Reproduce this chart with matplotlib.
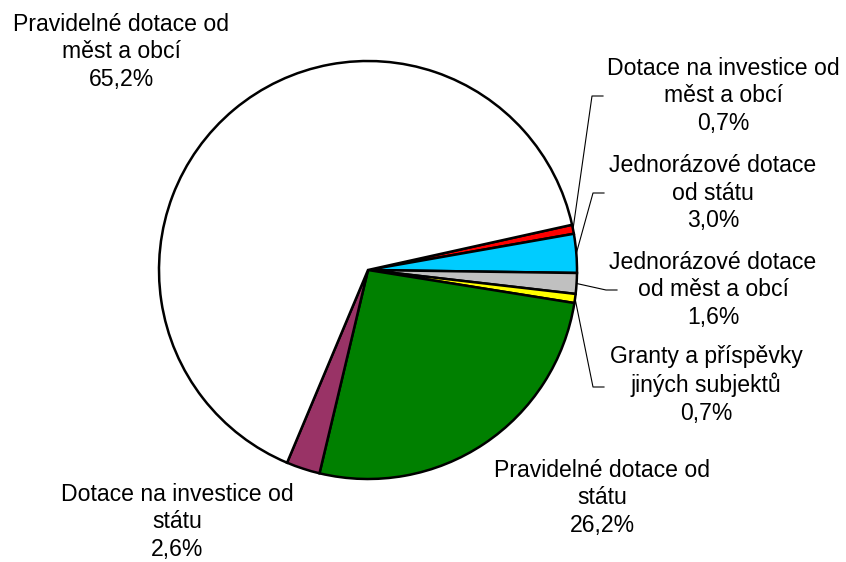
import matplotlib.pyplot as plt
import numpy as np

plt.rcParams['font.family'] = ['Liberation Sans', 'DejaVu Sans']

# Slice order runs clockwise from the red slice
labels = [
    "Dotace na investice od\nměst a obcí",
    "Jednorázové dotace\nod státu",
    "Jednorázové dotace\nod měst a obcí",
    "Granty a příspěvky\njiných subjektů",
    "Pravidelné dotace od\nstátu",
    "Dotace na investice od\nstátu",
    "Pravidelné dotace od\nměst a obcí",
]
shares = [0.7, 3.0, 1.6, 0.7, 26.2, 2.6, 65.2]
colors = ["#FF0000", "#00CCFF", "#C0C0C0", "#FFFF00", "#008000", "#993366", "#FFFFFF"]

# label centres (pixels, y measured from top) and leader-line elbows
label_xy = [(723, 96), (713, 193), (713, 290), (706, 385), (602, 498), (177, 522), (121, 52)]
elbows = [(592, 96), (593, 193), (606, 290), (593, 387), None, None, None]

W, H = 846, 562
cx, cy, r = 368, H - 270, 209

fig = plt.figure(figsize=(W / 100, H / 100), dpi=100)
ax = fig.add_axes([0, 0, 1, 1])

wedges, _ = ax.pie(shares, colors=colors, startangle=12.5, counterclock=False,
                   center=(cx, cy), radius=r,
                   wedgeprops=dict(edgecolor="black", linewidth=1.8))

for w, lab, (lx, ly), elb, v in zip(wedges, labels, label_xy, elbows, shares):
    txt = lab + "\n" + f"{v:.1f}".replace(".", ",") + "%"
    ax.text(lx, H - ly, txt, ha="center", va="center", fontsize=16.6,
            linespacing=1.23, color="black")
    if elb is not None:
        ang = np.deg2rad((w.theta1 + w.theta2) / 2)
        x0, y0 = cx + r * np.cos(ang), cy + r * np.sin(ang)
        ex, ey = elb[0], H - elb[1]
        ax.plot([x0, ex, ex + 11], [y0, ey, ey], color="black", linewidth=0.8)

ax.set_xlim(0, W)
ax.set_ylim(0, H)
ax.set_aspect("equal")
ax.axis("off")

fig.savefig("out.png", dpi=100, facecolor="white")
